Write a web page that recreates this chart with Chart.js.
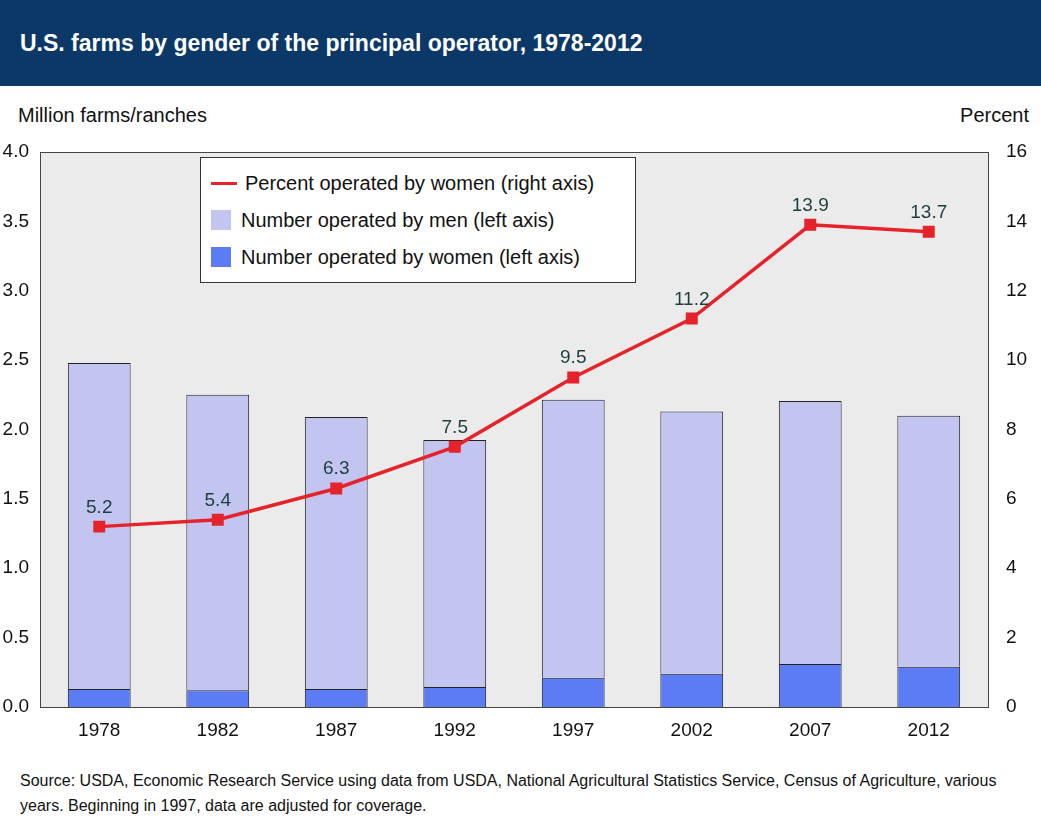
<!DOCTYPE html>
<html><head><meta charset="utf-8">
<script src="https://cdn.jsdelivr.net/npm/chart.js@4/dist/chart.umd.min.js"></script>
<style>
body{margin:0;width:1041px;height:833px;background:#fff;font-family:"Liberation Sans",Arial,sans-serif;position:relative;overflow:hidden}
#head{position:absolute;left:0;top:0;width:1041px;height:86px;background:#0b3866;color:#fff;font-weight:bold;font-size:23px;line-height:86px;text-indent:20px}
#wrap{position:absolute;left:0;top:86px;width:1041px;height:660px}
#c{width:1041px;height:660px}
.t{position:absolute;font-size:20px;color:#111}
#legend{position:absolute;left:200px;top:157px;width:436px;height:126px;background:#fff;border:1px solid #333;box-sizing:border-box;font-size:20px;color:#111}
.li{position:absolute;left:10px;height:30px;line-height:30px}
.sw{display:inline-block;width:20px;height:20px;vertical-align:-3px;margin-right:10px}
#src{position:absolute;left:20px;top:768px;font-size:16px;line-height:25px;color:#111}
</style></head><body>
<div id="head">U.S. farms by gender of the principal operator, 1978-2012</div>
<div class="t" style="left:18px;top:104px">Million farms/ranches</div>
<div class="t" style="right:12px;top:104px">Percent</div>
<div id="wrap"><canvas id="c" width="1041" height="660"></canvas></div>
<div id="legend">
<div class="li" style="top:10px"><span style="display:inline-block;width:26px;height:3px;background:#e5232b;vertical-align:5px;margin-right:8px"></span>Percent operated by women (right axis)</div>
<div class="li" style="top:47px"><span class="sw" style="background:#c3c5f1"></span>Number operated by men (left axis)</div>
<div class="li" style="top:84px"><span class="sw" style="background:#5b7cf5"></span>Number operated by women (left axis)</div>
</div>
<div id="src">Source: USDA, Economic Research Service using data from USDA, National Agricultural Statistics Service, Census of Agriculture, various<br>years. Beginning in 1997, data are adjusted for coverage.</div>
<script>
const years = ["1978","1982","1987","1992","1997","2002","2007","2012"];
const women = [0.13, 0.12, 0.13, 0.145, 0.21, 0.24, 0.31, 0.29];
const men = [2.35, 2.13, 1.96, 1.78, 2.005, 1.89, 1.895, 1.81];
const percentWomen = [5.2, 5.4, 6.3, 7.5, 9.5, 11.2, 13.9, 13.7];

const font = { family: "Liberation Sans", size: 19 };

const plotBg = {
  id: "plotBg",
  beforeDraw(chart){
    const a = chart.chartArea, c = chart.ctx;
    c.save();
    c.fillStyle = "#ebebeb";
    c.fillRect(a.left, a.top, a.right - a.left, a.bottom - a.top);
    c.strokeStyle = "#444"; c.lineWidth = 1;
    c.strokeRect(a.left + 0.5, a.top + 0.5, a.right - a.left, a.bottom - a.top);
    c.restore();
  }
};

const labels = {
  id: "labels",
  afterDatasetsDraw(chart){
    const meta = chart.getDatasetMeta(2), c = chart.ctx;
    c.save();
    c.font = "19px Liberation Sans";
    c.fillStyle = "#1d3d3d";
    c.textAlign = "center";
    meta.data.forEach((p, i) => {
      c.fillText(percentWomen[i].toFixed(1), p.x, p.y - 14);
    });
    c.restore();
  }
};

new Chart(document.getElementById("c"), {
  data: {
    labels: years,
    datasets: [
      { type: "bar", data: women, backgroundColor: "#5b7cf5", borderColor: "#222", borderWidth: 1, yAxisID: "y", stack: "s", order: 2 },
      { type: "bar", data: men, backgroundColor: "#c3c5f1", borderColor: "#222", borderWidth: 1, yAxisID: "y", stack: "s", order: 2 },
      { type: "line", data: percentWomen, borderColor: "#e5232b", backgroundColor: "#e5232b", borderWidth: 3.5,
        pointStyle: "rect", pointRadius: 6, yAxisID: "y1", tension: 0, order: 1 }
    ]
  },
  options: {
    responsive: false,
    animation: false,
    devicePixelRatio: 1,
    layout: { padding: { top: 66, left: 0, right: 0, bottom: 0 } },
    datasets: { bar: { barPercentage: 0.53, categoryPercentage: 1 } },
    plugins: { legend: { display: false }, tooltip: { enabled: false } },
    scales: {
      x: {
        stacked: true,
        grid: { display: false, tickLength: 6 },
        border: { color: "#444" },
        ticks: { color: "#111", font, padding: 6, maxRotation: 0 },
        afterFit: s => { s.height = 39; }
      },
      y: {
        stacked: true, min: 0, max: 4, position: "left",
        grid: { display: false },
        border: { color: "#444" },
        ticks: { stepSize: 0.5, color: "#111", font, callback: v => v.toFixed(1) },
        afterFit: s => { s.width = 40; }
      },
      y1: {
        min: 0, max: 16, position: "right",
        grid: { display: false },
        border: { color: "#444" },
        ticks: { stepSize: 2, color: "#111", font, padding: 10 },
        afterFit: s => { s.width = 53; }
      }
    }
  },
  plugins: [plotBg, labels]
});
</script>
</body></html>
